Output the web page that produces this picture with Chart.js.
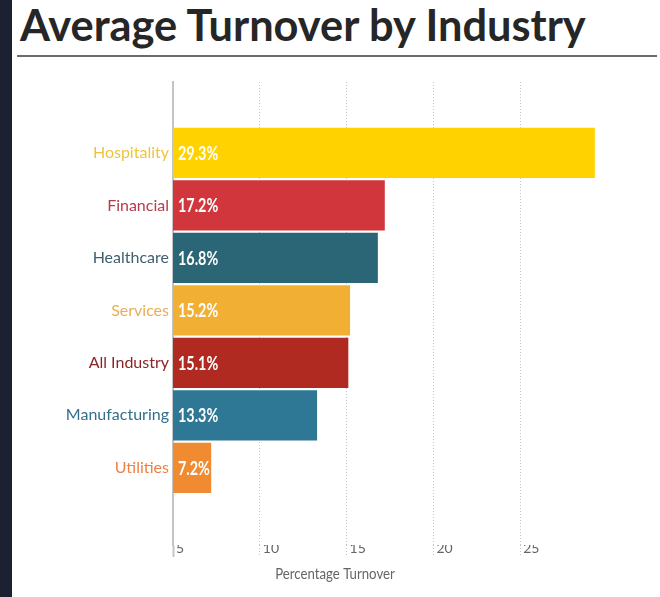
<!DOCTYPE html>
<html>
<head>
<meta charset="utf-8">
<script src="https://cdn.jsdelivr.net/npm/chart.js@4.4.0/dist/chart.umd.min.js"></script>
<style>
  html, body { margin: 0; padding: 0; }
  body { width: 660px; height: 597px; background: #1b2130; position: relative; overflow: hidden; }
  #panel { position: absolute; left: 12px; top: 0; width: 648px; height: 597px; background: #fff; }
  #title {
    position: absolute; left: 20px; top: 3px; margin: 0;
    font: 700 43px/43px Lato, sans-serif; color: #262626;
    white-space: nowrap; transform-origin: 0 0;
  }
  #rule { position: absolute; left: 17px; top: 55px; width: 640px; height: 2px; background: #6b6b6b; }
  #chart { position: absolute; left: 0; top: 0; }
</style>
</head>
<body>
<div id="panel"></div>
<h1 id="title">Average Turnover by Industry</h1>
<div id="rule"></div>
<canvas id="chart" width="660" height="597"></canvas>
<script>
// data
const industries = ['Hospitality', 'Financial', 'Healthcare', 'Services', 'All Industry', 'Manufacturing', 'Utilities'];
const turnover = [29.3, 17.2, 16.8, 15.2, 15.1, 13.3, 7.2];
const barColors = ['#FFD200', '#D0363B', '#2A6675', '#F1B034', '#B02A22', '#2E7895', '#F08B32'];
const labelColors = ['#EDC43F', '#B83A4B', '#3D5F6E', '#E7AE56', '#8E2426', '#326F8C', '#EE8147'];
const xTicks = [5, 10, 15, 20, 25];
const xMin = 5;
const xMax = 30;
const axisTitle = 'Percentage Turnover';

// squeeze the title to the reference width
const title = document.getElementById('title');
title.style.transform = 'scaleX(' + (566 / title.scrollWidth) + ')';

const valueLabels = {
    id: 'valueLabels',
    afterDatasetsDraw(chart) {
        const ctx = chart.ctx;
        const meta = chart.getDatasetMeta(0);
        const left = chart.chartArea.left;
        ctx.save();
        ctx.fillStyle = '#fff';
        ctx.font = 'bold 18px Lato';
        ctx.textBaseline = 'middle';
        meta.data.forEach((bar, i) => {
            ctx.save();
            ctx.translate(Math.max(bar.base, left) + 5, bar.y + 1);
            ctx.scale(0.8, 1);
            ctx.fillText(turnover[i].toFixed(1) + '%', 0, 0);
            ctx.restore();
        });
        ctx.restore();
    }
};

const xTitle = {
    id: 'xTitle',
    afterDraw(chart) {
        const ctx = chart.ctx;
        const area = chart.chartArea;
        ctx.save();
        ctx.fillStyle = '#666';
        ctx.font = '15px Lato';
        ctx.textAlign = 'center';
        ctx.textBaseline = 'middle';
        ctx.translate(area.left + 162, area.bottom + 29);
        ctx.scale(0.88, 1);
        ctx.fillText(axisTitle, 0, 0);
        ctx.restore();
    }
};

new Chart(document.getElementById('chart'), {
    type: 'bar',
    data: {
        datasets: [{
            data: turnover.map((v, i) => ({ x: v, y: i })),
            backgroundColor: barColors,
            borderWidth: 0,
            barPercentage: 1,
            categoryPercentage: 0.955
        }]
    },
    options: {
        indexAxis: 'y',
        responsive: false,
        animation: false,
        devicePixelRatio: 1,
        layout: { padding: { top: 82, right: 53, left: 0, bottom: 0 } },
        plugins: {
            legend: { display: false },
            tooltip: { enabled: false }
        },
        scales: {
            x: {
                type: 'linear',
                position: 'bottom',
                bounds: 'data',
                min: xMin,
                max: xMax,
                afterBuildTicks: s => { s.ticks = xTicks.map(v => ({ value: v })); },
                afterFit: s => { s.height = 52; },
                border: { display: false, dash: [1, 2] },
                grid: {
                    color: c => c.index === 0 ? 'rgba(0,0,0,0)' : '#c4c4c4',
                    lineWidth: 1,
                    tickLength: 12,
                    tickColor: '#c4c4c4',
                    tickWidth: c => c.index === 0 ? 2 : 1,
                    tickBorderDash: c => c.index === 0 ? [] : [1, 2]
                },
                ticks: {
                    color: '#666',
                    font: { family: 'Lato', size: 14 },
                    align: 'start',
                    labelOffset: 3,
                    padding: -17
                }
            },
            y: {
                type: 'linear',
                reverse: true,
                bounds: 'data',
                offset: false,
                min: -1.35,
                max: 7.47,
                afterBuildTicks: s => { s.ticks = industries.map((_, i) => ({ value: i })); },
                afterFit: s => { s.width = 173; },
                border: { display: true, color: '#c4c4c4', width: 2 },
                grid: { offset: false, drawOnChartArea: false, drawTicks: false },
                ticks: {
                    callback: v => industries[v],
                    color: c => labelColors[c.index],
                    font: { family: 'Lato', size: 16 },
                    padding: 4
                }
            }
        }
    },
    plugins: [valueLabels, xTitle]
});
</script>
</body>
</html>
